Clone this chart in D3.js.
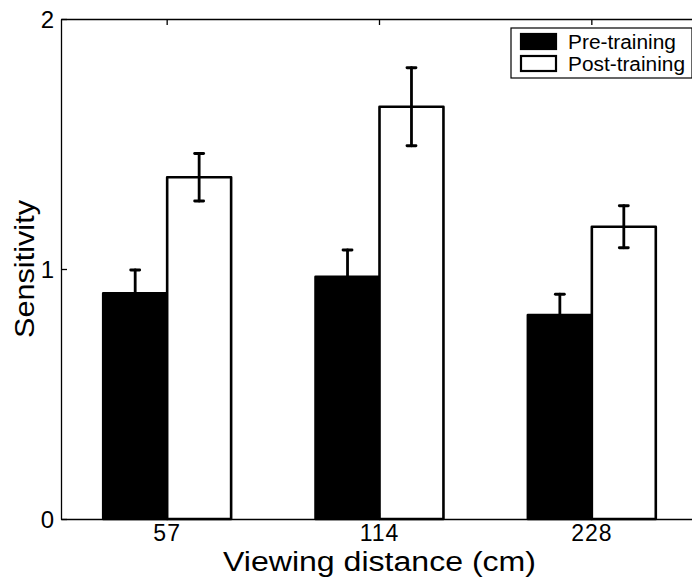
<!DOCTYPE html>
<html>
<head>
<meta charset="utf-8">
<script src="https://cdn.jsdelivr.net/npm/d3@7"></script>
<style>
  body { margin: 0; background: #fff; }
  text { font-family: "Liberation Sans", Arial, Helvetica, sans-serif; fill: #000; }
</style>
</head>
<body>
<script>
// chart data
var distances = ["57", "114", "228"];
var seriesNames = ["Pre-training", "Post-training"];
var preValues = [0.903, 0.969, 0.816];
var preErrors = [0.093, 0.107, 0.083];
var postValues = [1.367, 1.649, 1.169];
var postErrors = [0.095, 0.156, 0.084];
var yTicks = [0, 1, 2];

// set the dimensions and margins of the graph
var margin = {top: 19, right: -6, bottom: 63, left: 61},
    width = 692 - margin.left - margin.right,
    height = 582 - margin.top - margin.bottom;

var x0 = d3.scaleBand().domain(distances).range([0, width]);
var x1 = d3.scaleBand().domain(seriesNames).range([0, x0.bandwidth()]).paddingOuter(0.66);
var y = d3.scaleLinear().domain([0, 2]).range([height, 0]);

var svg = d3.select("body").append("svg")
    .attr("width", 692)
    .attr("height", 582)
    .append("g")
    .attr("transform", "translate(" + margin.left + "," + margin.top + ")");

// build rows for bars
var rows = [];
distances.forEach(function(d, i) {
    rows.push({cat: d, series: seriesNames[0], value: preValues[i], err: preErrors[i]});
    rows.push({cat: d, series: seriesNames[1], value: postValues[i], err: postErrors[i]});
});

var fills = {"Pre-training": "#000", "Post-training": "#fff"};

svg.selectAll(".bar")
    .data(rows)
    .enter().append("rect")
    .attr("class", "bar")
    .attr("x", function(d) { return x0(d.cat) + x1(d.series); })
    .attr("y", function(d) { return y(d.value); })
    .attr("width", x1.bandwidth())
    .attr("height", function(d) { return y(0) - y(d.value); })
    .attr("fill", function(d) { return fills[d.series]; })
    .attr("stroke", "#000")
    .attr("stroke-width", 2.6)
    .attr("stroke-linejoin", "round");

// error bars
var capW = 4.5;
var eb = svg.selectAll(".err")
    .data(rows)
    .enter().append("g")
    .attr("class", "err")
    .attr("transform", function(d) {
        return "translate(" + (x0(d.cat) + x1(d.series) + x1.bandwidth() / 2) + ",0)";
    });
eb.append("line")
    .attr("y1", function(d) { return y(d.value - d.err); })
    .attr("y2", function(d) { return y(d.value + d.err); });
eb.append("line")
    .attr("x1", -capW).attr("x2", capW)
    .attr("y1", function(d) { return y(d.value + d.err); })
    .attr("y2", function(d) { return y(d.value + d.err); });
eb.append("line")
    .attr("x1", -capW).attr("x2", capW)
    .attr("y1", function(d) { return y(d.value - d.err); })
    .attr("y2", function(d) { return y(d.value - d.err); });
eb.selectAll("line")
    .attr("stroke", "#000")
    .attr("stroke-width", 2.8)
    .attr("stroke-linecap", "round");

// box axes
var tickLen = 6;
var axisBottom = svg.append("g")
    .attr("transform", "translate(0," + height + ")")
    .call(d3.axisBottom(x0).tickSizeInner(-tickLen).tickSizeOuter(0).tickPadding(6));
var axisTop = svg.append("g")
    .call(d3.axisTop(x0).tickSizeInner(-tickLen).tickSizeOuter(0).tickFormat(""));
var axisLeft = svg.append("g")
    .call(d3.axisLeft(y).tickValues(yTicks).tickFormat(d3.format("d")).tickSizeInner(-tickLen).tickSizeOuter(0).tickPadding(6));
var axisRight = svg.append("g")
    .attr("transform", "translate(" + width + ",0)")
    .call(d3.axisRight(y).tickValues(yTicks).tickSizeInner(-tickLen).tickSizeOuter(0).tickFormat(""));

[axisBottom, axisTop, axisLeft, axisRight].forEach(function(a) {
    a.select(".domain").attr("stroke", "#000").attr("stroke-width", 1.3);
    a.selectAll(".tick line").attr("stroke", "#000").attr("stroke-width", 1.3);
    a.selectAll(".tick text").style("font-size", "24px").style("letter-spacing", "1px").attr("fill", "#000");
});
axisBottom.selectAll(".tick text").attr("dy", "0.71em").style("font-size", "23px");
axisLeft.selectAll(".tick text").attr("dy", "0.36em");

// axis titles
svg.append("text")
    .attr("x", x0("114") + x0.bandwidth() / 2)
    .attr("y", height + 52)
    .attr("text-anchor", "middle")
    .attr("textLength", 313)
    .attr("lengthAdjust", "spacingAndGlyphs")
    .style("font-size", "27px")
    .text("Viewing distance (cm)");

svg.append("text")
    .attr("transform", "translate(-27," + y(1) + ") rotate(-90)")
    .attr("text-anchor", "middle")
    .attr("textLength", 138)
    .attr("lengthAdjust", "spacingAndGlyphs")
    .style("font-size", "27px")
    .text("Sensitivity");

// legend
var legend = svg.append("g")
    .attr("transform", "translate(" + (511 - margin.left) + "," + (28 - margin.top) + ")");
legend.append("rect")
    .attr("width", 181).attr("height", 50)
    .attr("fill", "#fff").attr("stroke", "#000").attr("stroke-width", 1.2);
var labelLengths = [108, 117];
seriesNames.forEach(function(s, i) {
    var g = legend.append("g").attr("transform", "translate(10," + (6 + i * 22) + ")");
    g.append("rect")
        .attr("width", 35).attr("height", 15)
        .attr("fill", fills[s]).attr("stroke", "#000").attr("stroke-width", 2.2);
    g.append("text")
        .attr("x", 47).attr("y", 15)
        .attr("textLength", labelLengths[i])
        .attr("lengthAdjust", "spacingAndGlyphs")
        .style("font-size", "20px")
        .text(s);
});
</script>
</body>
</html>
